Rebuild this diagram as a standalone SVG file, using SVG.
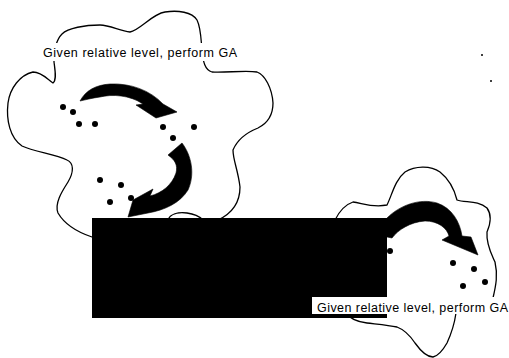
<svg xmlns="http://www.w3.org/2000/svg" width="509" height="358" viewBox="0 0 509 358">
<style>
.cloud{fill:none;stroke:#000;stroke-width:1.3;stroke-linecap:round;stroke-linejoin:round}
.arrow{fill:#000;stroke:#000;stroke-width:0.6;stroke-linejoin:round}
.dot{fill:#000}
.box{fill:#fff}
.lbl{font-family:"Liberation Sans",Arial,sans-serif;font-size:12.5px;fill:#000}
</style>
<rect width="509" height="358" fill="#fff"/>
<g id="cloud1">
<path class="cloud" d="M 92,237 C 80,233 65,225 58,213 C 54,203 63,190 68,182 C 74,172 74,163 67,160 C 55,154 35,152 22,146 C 10,138 6,120 8,103 C 10,88 20,75 33,72 C 42,72 48,80 53,83 C 57,80 55,70 54,62 C 54,50 56,40 62,34 C 68,28 85,25 100,25 C 110,25 120,31 130,32 C 140,30 152,14 165,12 C 178,10 192,12 197,20 C 201,28 201,40 202,50 C 203,62 205,70 212,72 C 225,73 245,70 257,72 C 265,75 272,88 273,103 C 273,115 268,123 258,128 C 248,132 238,138 233,150 C 233,160 238,170 240,187 C 240,200 235,212 218,220"/>
<path class="cloud" d="M 168,220 C 170,214 178,212 187,213 C 195,214 200,217 203,220"/>
<g class="dot">
<circle cx="63" cy="107" r="3"/><circle cx="73" cy="112" r="3"/><circle cx="79" cy="124" r="3"/><circle cx="95" cy="124" r="3"/>
<circle cx="163" cy="127" r="3"/><circle cx="194" cy="127" r="3"/><circle cx="173" cy="138" r="3"/>
<circle cx="100" cy="180" r="3"/><circle cx="121" cy="185" r="3"/><circle cx="110" cy="202" r="3"/><circle cx="131" cy="198" r="3"/>
</g>
</g>
<g id="cloud2">
<path class="cloud" d="M 335,220 C 340,210 347,204 353,202 C 362,203 372,208 387,205 C 392,195 395,180 405,172 C 415,166 430,165 440,172 C 450,180 455,192 457,200 C 465,203 478,200 487,208 C 492,215 490,225 487,232 C 486,245 492,255 495,262 C 498,275 496,285 493,298 C 485,306 465,308 456,313 C 455,320 453,330 447,343 C 443,350 438,356 433,357 C 427,357 420,350 415,343 C 411,337 405,330 397,327 C 388,325 375,324 367,323 C 358,322 350,319 345,312"/>
<g class="dot">
<circle cx="390" cy="251" r="3"/><circle cx="453" cy="263" r="3"/><circle cx="474" cy="269" r="3"/><circle cx="485" cy="282" r="3"/><circle cx="463" cy="286" r="3"/>
</g>
</g>
<g id="block">
<rect x="92" y="218" width="295" height="100" fill="#000"/>
</g>
<g id="connectors">
<path class="arrow" d="M 80,101 C 86,90 96,85 110,84 C 130,83 150,90 163,104 L 177,112 L 156,118 L 136,105 L 143,104 C 130,95 112,94 100,97 C 92,98 85,100 80,101 Z"/>
<path class="arrow" d="M 168,155 L 182,143 C 192,156 195,175 188,190 C 180,203 165,210 148,213 L 128,217 L 133,200 L 153,189 L 150,196 C 162,193 172,185 176,173 C 178,165 175,160 168,155 Z"/>
<path class="arrow" d="M 387,218 C 400,205 420,198 437,203 C 452,208 460,222 462,236 L 471,237 L 478,255 L 442,240 L 449,236 C 447,228 438,221 425,221 C 410,222 398,230 392,238 L 387,237 Z"/>
</g>
<g id="label1">
<rect class="box" x="42" y="43" width="197" height="18"/>
<text class="lbl" x="43" y="56.5" textLength="194" lengthAdjust="spacing">Given relative level, perform GA</text>
</g>
<g id="label2">
<rect class="box" x="312" y="297" width="197" height="17"/>
<text class="lbl" x="317" y="311.5" textLength="191" lengthAdjust="spacing">Given relative level, perform GA</text>
</g>
<g class="dot">
<circle cx="482" cy="55" r="1"/><circle cx="491" cy="81" r="1"/>
</g>
</svg>
